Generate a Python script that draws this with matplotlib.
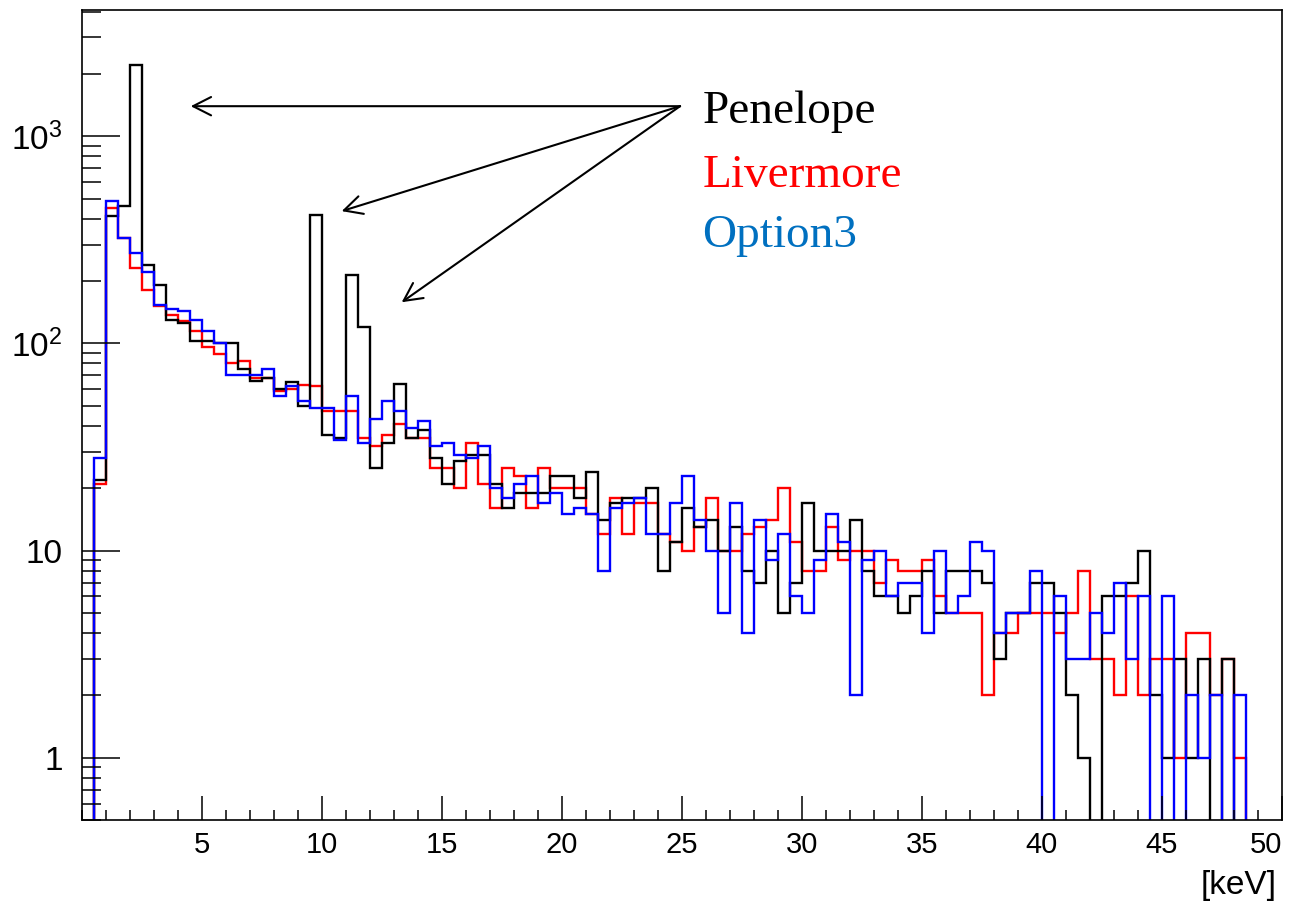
import numpy as np
import matplotlib
matplotlib.use("Agg")
import matplotlib.pyplot as plt
from matplotlib.ticker import MultipleLocator, LogLocator, FixedLocator, FixedFormatter, NullFormatter

plt.rcParams['font.family'] = ['Liberation Sans', 'DejaVu Sans']
plt.rcParams['mathtext.fontset'] = 'custom'
plt.rcParams['mathtext.rm'] = 'Liberation Sans'

# histogram binning: 100 bins of 0.5 keV from 0 to 50 keV
bin_edges = np.linspace(0, 50, 101)

# counts per bin
penelope = [0, 22, 410, 463, 2200, 238, 191, 130, 126, 103,
            103, 100, 100, 75, 66, 68, 60, 65, 50, 415,
            36, 35, 215, 120, 25, 33, 64, 35, 38, 28,
            21, 27, 29, 29, 21, 16, 19, 19, 19, 23,
            23, 18, 24, 14, 17, 18, 18, 20, 8, 11,
            16, 13, 14, 10, 13, 8, 7, 10, 5, 7,
            17, 10, 10, 10, 14, 8, 6, 6, 5, 6,
            8, 5, 8, 8, 8, 7, 3, 5, 5, 7,
            7, 5, 2, 1, 0, 6, 6, 7, 10, 2,
            1, 3, 1, 3, 0, 3, 0, 0, 0, 0]

livermore = [0, 21, 452, 323, 232, 181, 151, 137, 128, 115,
             96, 89, 80, 82, 68, 68, 59, 60, 63, 62,
             47, 47, 47, 35, 32, 36, 41, 35, 35, 25,
             25, 20, 33, 21, 16, 25, 23, 16, 25, 20,
             20, 20, 15, 12, 18, 12, 17, 17, 12, 11,
             10, 13, 18, 10, 10, 12, 13, 14, 20, 11,
             8, 8, 13, 9, 10, 10, 7, 9, 8, 8,
             9, 6, 5, 5, 5, 2, 4, 4, 5, 5,
             5, 4, 5, 8, 3, 3, 2, 6, 2, 3,
             3, 1, 4, 4, 2, 3, 1, 0, 0, 0]

option3 = [0, 28, 485, 323, 274, 221, 154, 146, 144, 130,
           115, 100, 70, 70, 70, 75, 56, 62, 53, 49,
           49, 34, 56, 33, 43, 53, 47, 39, 42, 32,
           33, 29, 28, 32, 20, 18, 21, 23, 17, 19,
           15, 16, 15, 8, 16, 17, 18, 12, 12, 17,
           23, 14, 10, 5, 17, 4, 14, 9, 12, 6,
           5, 9, 15, 11, 2, 9, 10, 6, 7, 7,
           4, 10, 5, 6, 11, 10, 4, 5, 5, 8,
           0, 6, 3, 3, 5, 4, 7, 3, 6, 0,
           6, 0, 2, 1, 2, 0, 2, 0, 0, 0]

names = ["Penelope", "Livermore", "Option3"]
text_colors = ["black", "#ff0000", "#0070c0"]
x_ticks = [5, 10, 15, 20, 25, 30, 35, 40, 45, 50]

fig = plt.figure(figsize=(13.01, 9.05), dpi=100)
ax = fig.add_axes([82 / 1301, 85 / 905, 1200 / 1301, 810 / 905])

ax.set_yscale('log')
ax.stairs(livermore, bin_edges, color="#ff0000", lw=1.7)
ax.stairs(penelope, bin_edges, color="black", lw=1.7)
ax.stairs(option3, bin_edges, color="#0000ff", lw=1.7)

ax.set_xlim(0, 50)
ax.set_ylim(0.5, 4070)

# ROOT style ticks
ax.set_xticks(x_ticks)
ax.set_xticklabels([str(t) for t in x_ticks])
ax.xaxis.set_minor_locator(MultipleLocator(1))
ax.tick_params(axis='x', which='major', direction='in', length=17, width=1.1,
               labelsize=21, pad=8, top=False)
ax.tick_params(axis='x', which='minor', direction='in', length=7, width=1.1, top=False)
ax.get_xticklabels()[-1].set_horizontalalignment('right')

ax.yaxis.set_major_locator(FixedLocator([1, 10, 100, 1000]))
ax.yaxis.set_major_formatter(FixedFormatter(['1', '10', r'$\mathregular{10^{2}}$', r'$\mathregular{10^{3}}$']))
ax.yaxis.set_minor_locator(LogLocator(base=10, subs=np.arange(2, 10)))
ax.yaxis.set_minor_formatter(NullFormatter())
ax.tick_params(axis='y', which='major', direction='in', length=27, width=1.1,
               labelsize=24, pad=14, right=False)
ax.tick_params(axis='y', which='minor', direction='in', length=14, width=1.1, right=False)

for s in ax.spines.values():
    s.set_linewidth(1.2)

fig.text(1277 / 1301, 1 - 885 / 905, "[keV]", ha='right', va='center', fontsize=24)

# legend text and arrows
ys = [0.8605, 0.7815, 0.7074]
for name, c, yy in zip(names, text_colors, ys):
    ax.text(0.517, yy, name, color=c, transform=ax.transAxes, ha='left', va='baseline',
            fontsize=34, family=['Liberation Serif', 'DejaVu Serif'])

arrow_tips = [(4.53, 1397), (10.82, 435), (13.32, 158)]
for tip in arrow_tips:
    ax.annotate('', xy=tip, xytext=(24.92, 1397),
                arrowprops=dict(arrowstyle='->,head_length=0.65,head_width=0.33',
                                color='black', lw=1.5, shrinkA=0, shrinkB=0,
                                mutation_scale=20))

fig.savefig("out.png", dpi=100)
